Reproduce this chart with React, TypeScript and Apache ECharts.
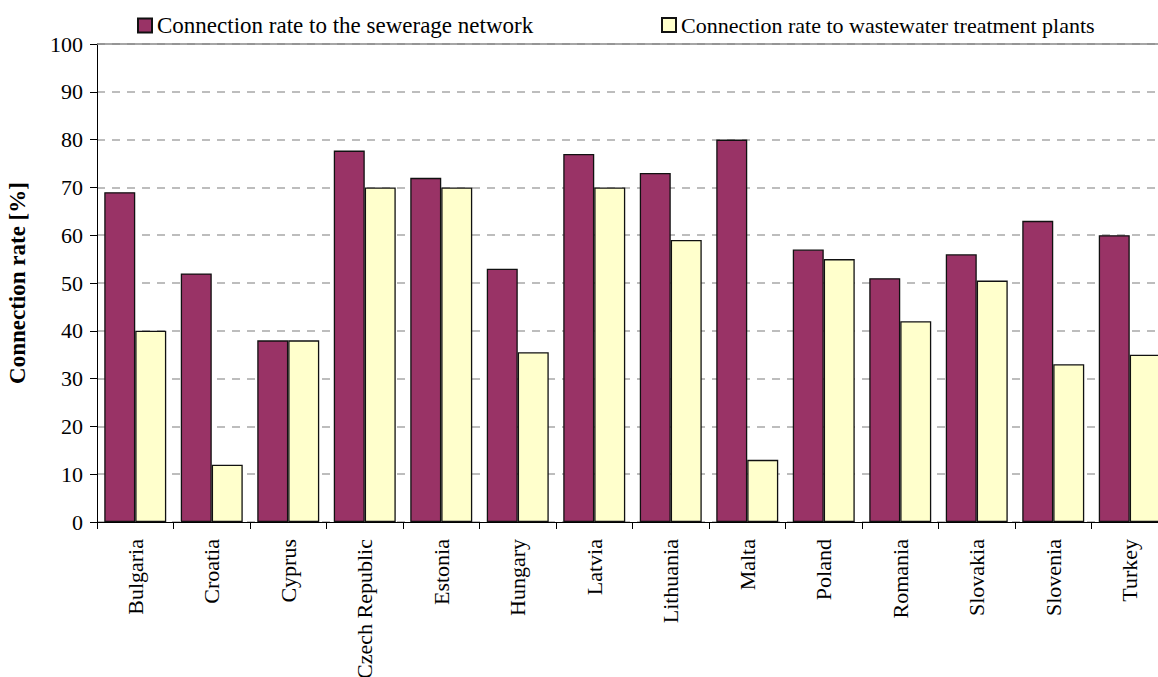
import React, { useEffect, useRef } from "react";
import * as echarts from "echarts";

const categories = [
  "Bulgaria", "Croatia", "Cyprus", "Czech Republic", "Estonia", "Hungary", "Latvia",
  "Lithuania", "Malta", "Poland", "Romania", "Slovakia", "Slovenia", "Turkey",
];
const sewerage = [69, 52, 38, 77.7, 72, 53, 77, 73, 80, 57, 51, 56, 63, 60];
const treatment = [40, 12, 38, 70, 70, 35.5, 70, 59, 13, 55, 42, 50.5, 33, 35];
const seriesNames = [
  "Connection rate to the sewerage network",
  "Connection rate to wastewater treatment plants",
];
const yAxisName = "Connection rate [%]";

const FONT = "Liberation Serif, Times New Roman, serif";

export default function App() {
  const ref = useRef<HTMLDivElement>(null);
  useEffect(() => {
    document.body.style.margin = "0";
    const chart = echarts.init(ref.current!, null, { renderer: "svg" });
    const legendBase = {
      top: 9,
      itemWidth: 14,
      itemHeight: 14,
      icon: "rect",
    };
    chart.setOption({
      animation: false,
      backgroundColor: "#ffffff",
      textStyle: { fontFamily: FONT },
      legend: [
        {
          ...legendBase,
          left: 132,
          textStyle: { fontFamily: FONT, fontSize: 23, color: "#000" },
          data: [seriesNames[0]],
        },
        {
          ...legendBase,
          left: 656,
          textStyle: { fontFamily: FONT, fontSize: 22, color: "#000" },
          data: [seriesNames[1]],
        },
      ],
      grid: {
        left: 97,
        top: 44,
        width: 1071,
        bottom: 155,
        show: false,
        containLabel: false,
        outerBoundsMode: "none",
      },
      xAxis: {
        type: "category",
        data: categories,
        axisLine: { show: true, lineStyle: { color: "#000", width: 1 } },
        axisTick: { show: true, length: 7, alignWithLabel: false, lineStyle: { color: "#000" } },
        axisLabel: {
          rotate: 90,
          interval: 0,
          margin: 17,
          fontFamily: FONT,
          fontSize: 22,
          color: "#000",
        },
      },
      yAxis: [
        {
          type: "value",
          min: 0,
          max: 100,
          interval: 10,
          name: yAxisName,
          nameLocation: "middle",
          nameGap: 68,
          nameTextStyle: { fontFamily: FONT, fontSize: 23, fontWeight: "bold", color: "#000" },
          axisLine: { show: true, lineStyle: { color: "#000", width: 1 } },
          axisTick: { show: true, inside: false, length: 7, lineStyle: { color: "#000" } },
          axisLabel: { margin: 14, fontFamily: FONT, fontSize: 22, color: "#000" },
          splitLine: {
            show: true,
            lineStyle: { color: "#a8a8a8", type: [8, 7], width: 1.5 },
          },
        },
      ],
      series: [
        {
          name: seriesNames[0],
          type: "bar",
          data: sewerage,
          barGap: "0%",
          barCategoryGap: "19%",
          itemStyle: { color: "#993366", borderColor: "#111", borderWidth: 1.3 },
        },
        {
          name: seriesNames[1],
          type: "bar",
          data: treatment,
          barGap: "0%",
          barCategoryGap: "19%",
          itemStyle: { color: "#ffffcc", borderColor: "#111", borderWidth: 1.3 },
        },
      ],
      graphic: [
        {
          type: "line",
          shape: { x1: 97, y1: 44, x2: 1170, y2: 44 },
          style: { stroke: "#888", lineWidth: 1.5 },
          z: 10,
        },
      ],
    });
    return () => chart.dispose();
  }, []);
  return (
    <div style={{ width: 1158, height: 677, overflow: "hidden", position: "relative" }}>
      <div ref={ref} style={{ width: 1170, height: 677 }} />
    </div>
  );
}
